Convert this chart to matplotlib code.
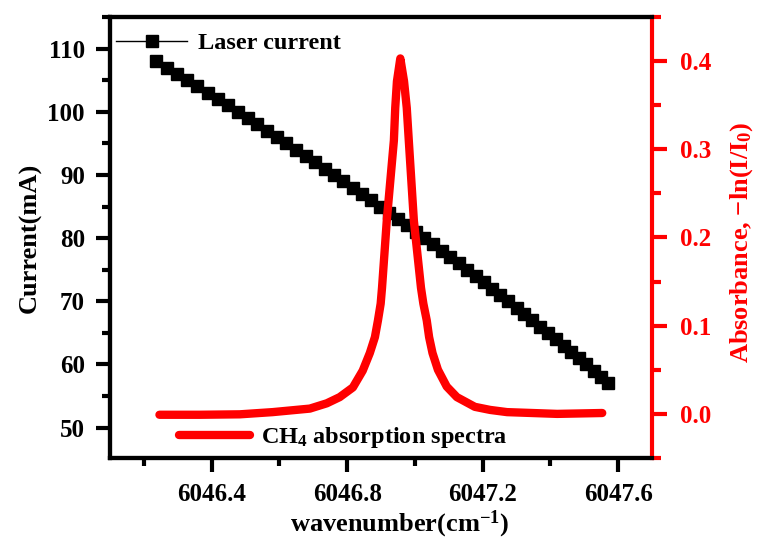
import numpy as np
import matplotlib
matplotlib.use('Agg')
import matplotlib.pyplot as plt
from matplotlib.ticker import MultipleLocator, FormatStrFormatter

plt.rcParams['font.family'] = ['Liberation Serif', 'DejaVu Serif']
plt.rcParams['font.weight'] = 'bold'
plt.rcParams['mathtext.fontset'] = 'custom'
plt.rcParams['mathtext.rm'] = 'Liberation Serif:bold'
plt.rcParams['mathtext.it'] = 'Liberation Serif:bold'
plt.rcParams['mathtext.bf'] = 'Liberation Serif:bold'

# laser scan: wavenumber (cm-1) vs. injection current (mA)
laser_wn = [6046.237, 6046.267, 6046.298, 6046.328, 6046.358, 6046.388,
            6046.418, 6046.448, 6046.477, 6046.506, 6046.535, 6046.564,
            6046.593, 6046.621, 6046.650, 6046.678, 6046.706, 6046.734,
            6046.761, 6046.789, 6046.816, 6046.843, 6046.870, 6046.897,
            6046.923, 6046.950, 6046.976, 6047.002, 6047.028, 6047.053,
            6047.079, 6047.104, 6047.129, 6047.154, 6047.179, 6047.203,
            6047.228, 6047.252, 6047.276, 6047.300, 6047.323, 6047.347,
            6047.370, 6047.393, 6047.416, 6047.439, 6047.461, 6047.484,
            6047.506, 6047.528, 6047.550, 6047.571]
laser_ma = [108, 107, 106, 105, 104, 103, 102, 101, 100, 99, 98, 97, 96,
            95, 94, 93, 92, 91, 90, 89, 88, 87, 86, 85, 84, 83, 82, 81, 80,
            79, 78, 77, 76, 75, 74, 73, 72, 71, 70, 69, 68, 67, 66, 65, 64,
            63, 62, 61, 60, 59, 58, 57]

# CH4 absorbance
abs_wn = [6046.246, 6046.365, 6046.483, 6046.580, 6046.690, 6046.740,
          6046.778, 6046.817, 6046.846, 6046.867, 6046.882, 6046.891,
          6046.899, 6046.903, 6046.917, 6046.938, 6046.942, 6046.947,
          6046.957, 6046.968, 6046.976, 6046.982, 6046.997, 6047.018,
          6047.025, 6047.035, 6047.042, 6047.052, 6047.068, 6047.094,
          6047.124, 6047.177, 6047.222, 6047.272, 6047.420, 6047.553]
absorb = [-0.001, -0.001, -0.0005, 0.002, 0.006, 0.012,
          0.019, 0.030, 0.049, 0.069, 0.087, 0.106,
          0.125, 0.143, 0.219, 0.310, 0.347, 0.377,
          0.403, 0.377, 0.347, 0.310, 0.219, 0.143,
          0.125, 0.106, 0.087, 0.069, 0.050, 0.031,
          0.019, 0.008, 0.0045, 0.002, 0.000, 0.001]

fig = plt.figure(figsize=(7.58, 5.39), dpi=100)
ax = fig.add_axes([0.1451, 0.1503, 0.7151, 0.8182])
ax2 = ax.twinx()

ax.plot(laser_wn, laser_ma, color='black', lw=1.0, marker='s', ms=8,
        label='Laser current')
ax2.plot(abs_wn, absorb, color='red', lw=6, solid_capstyle='round',
         solid_joinstyle='round', label='CH$_4$ absorption spectra')

ax.set_xlim(6046.1, 6047.7)
ax.set_ylim(45.2, 115)
ax2.set_ylim(-0.05, 0.45)

ax.xaxis.set_major_locator(MultipleLocator(0.4))
ax.xaxis.set_minor_locator(MultipleLocator(0.2))
ax.yaxis.set_major_locator(MultipleLocator(10))
ax.yaxis.set_minor_locator(MultipleLocator(5))
ax2.yaxis.set_major_locator(MultipleLocator(0.1))
ax2.yaxis.set_minor_locator(MultipleLocator(0.05))
ax2.yaxis.set_major_formatter(FormatStrFormatter('%.1f'))

for a in (ax, ax2):
    for s in a.spines.values():
        s.set_linewidth(3)
ax.spines['right'].set_visible(False)
ax2.spines['right'].set_color('red')

ax.tick_params(axis='both', which='major', direction='out', length=10,
               width=3, labelsize=18, pad=8)
ax.tick_params(axis='both', which='minor', direction='out', length=5.5,
               width=3)
ax.tick_params(axis='y', which='major', pad=8)
ax2.tick_params(axis='y', which='major', direction='out', length=11,
                width=3, labelsize=18, pad=9, colors='red')
ax2.tick_params(axis='y', which='minor', direction='out', length=6.5,
                width=3, colors='red')

ax.set_xlabel('wavenumber(cm$^{-1}$)', fontsize=19, fontweight='bold')
ax.xaxis.set_label_coords(0.535, -0.115)
ax.set_ylabel('Current(mA)', fontsize=19, fontweight='bold')
ax.yaxis.set_label_coords(-0.125, 0.5)
ax2.set_ylabel('Absorbance, \u2212ln(I/I$_0$)', fontsize=19,
               fontweight='bold', color='red')
ax2.yaxis.set_label_coords(1.14, 0.49)

ax.legend(loc='upper left', bbox_to_anchor=(0.012, 0.965), frameon=False,
          fontsize=17.5, handlelength=2.9, handletextpad=0.45,
          borderpad=0, borderaxespad=0)
ax2.legend(loc='lower left', bbox_to_anchor=(0.128, 0.018), frameon=False,
           fontsize=17.5, handlelength=2.9, handletextpad=0.45,
           borderpad=0, borderaxespad=0)

fig.savefig('out.png', dpi=100)
